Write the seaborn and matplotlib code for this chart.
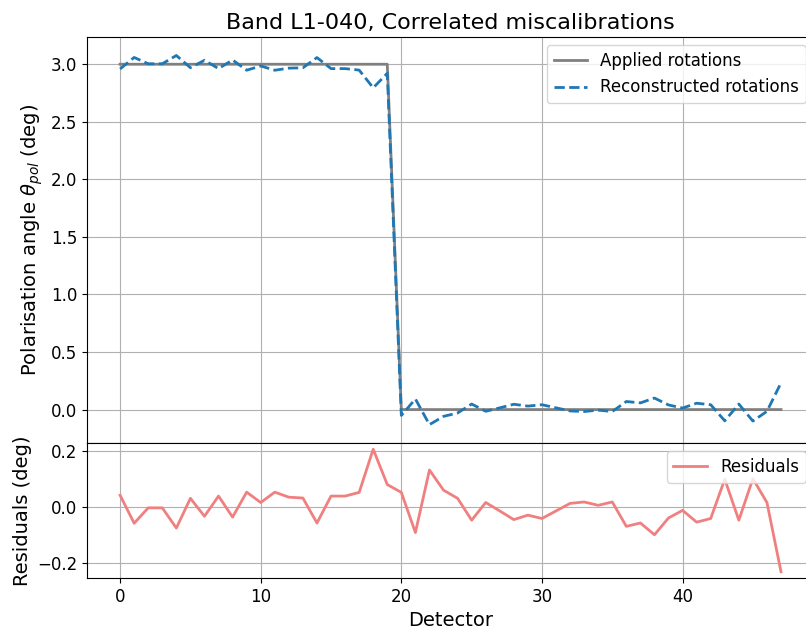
import numpy as np
import pandas as pd
import matplotlib
matplotlib.use("Agg")
import matplotlib.pyplot as plt
import seaborn as sns

# detector index
detectors = list(range(48))

# applied rotations (deg)
applied = [3.0] * 20 + [0.0] * 28

# reconstructed rotations (deg)
reconstructed = [2.959, 3.059, 3.004, 3.004, 3.076, 2.970, 3.034, 2.962, 3.037, 2.948,
                 2.985, 2.948, 2.966, 2.969, 3.058, 2.962, 2.962, 2.949, 2.795, 2.921,
                 -0.051, 0.092, -0.131, -0.059, -0.030, 0.048, -0.015, 0.015, 0.046, 0.030,
                 0.042, 0.015, -0.012, -0.017, -0.005, -0.017, 0.070, 0.058, 0.100, 0.040,
                 0.013, 0.055, 0.042, -0.098, 0.048, -0.100, -0.015, 0.232]

# residuals (deg)
residuals = [0.041, -0.059, -0.004, -0.004, -0.076, 0.030, -0.034, 0.038, -0.037, 0.052,
             0.015, 0.052, 0.034, 0.031, -0.058, 0.038, 0.038, 0.051, 0.205, 0.079,
             0.051, -0.092, 0.131, 0.059, 0.030, -0.048, 0.015, -0.015, -0.046, -0.030,
             -0.042, -0.015, 0.012, 0.017, 0.005, 0.017, -0.070, -0.058, -0.100, -0.040,
             -0.013, -0.055, -0.042, 0.098, -0.048, 0.100, 0.015, -0.232]

df = pd.DataFrame({"det": detectors, "applied": applied,
                   "recon": reconstructed, "res": residuals})

fig = plt.figure(figsize=(8.06, 6.33), dpi=100)
ax1 = fig.add_axes([0.108, 0.300, 0.902, 0.6415])
ax2 = fig.add_axes([0.108, 0.087, 0.902, 0.213], sharex=ax1)

sns.lineplot(data=df, x="det", y="applied", ax=ax1, color="grey", lw=2,
             label="Applied rotations")
sns.lineplot(data=df, x="det", y="recon", ax=ax1, color="tab:blue", lw=2,
             linestyle="--", label="Reconstructed rotations")
ax1.set_title("Band L1-040, Correlated miscalibrations", fontsize=16)
ax1.set_ylabel(r"Polarisation angle $\theta_{pol}$ (deg)", fontsize=14)
ax1.set_xlabel("")
ax1.grid(True)
ax1.tick_params(labelsize=12)
ax1.tick_params(axis="x", labelbottom=False, bottom=False)
ax1.legend(fontsize=12, loc="upper right")

sns.lineplot(data=df, x="det", y="res", ax=ax2, color="lightcoral", lw=2,
             label="Residuals")
ax2.set_ylabel("Residuals (deg)", fontsize=14)
ax2.set_xlabel("Detector", fontsize=14)
ax2.grid(True)
ax2.tick_params(labelsize=12)
ax2.legend(fontsize=12, loc="upper right")

fig.savefig("out.png", dpi=100)
